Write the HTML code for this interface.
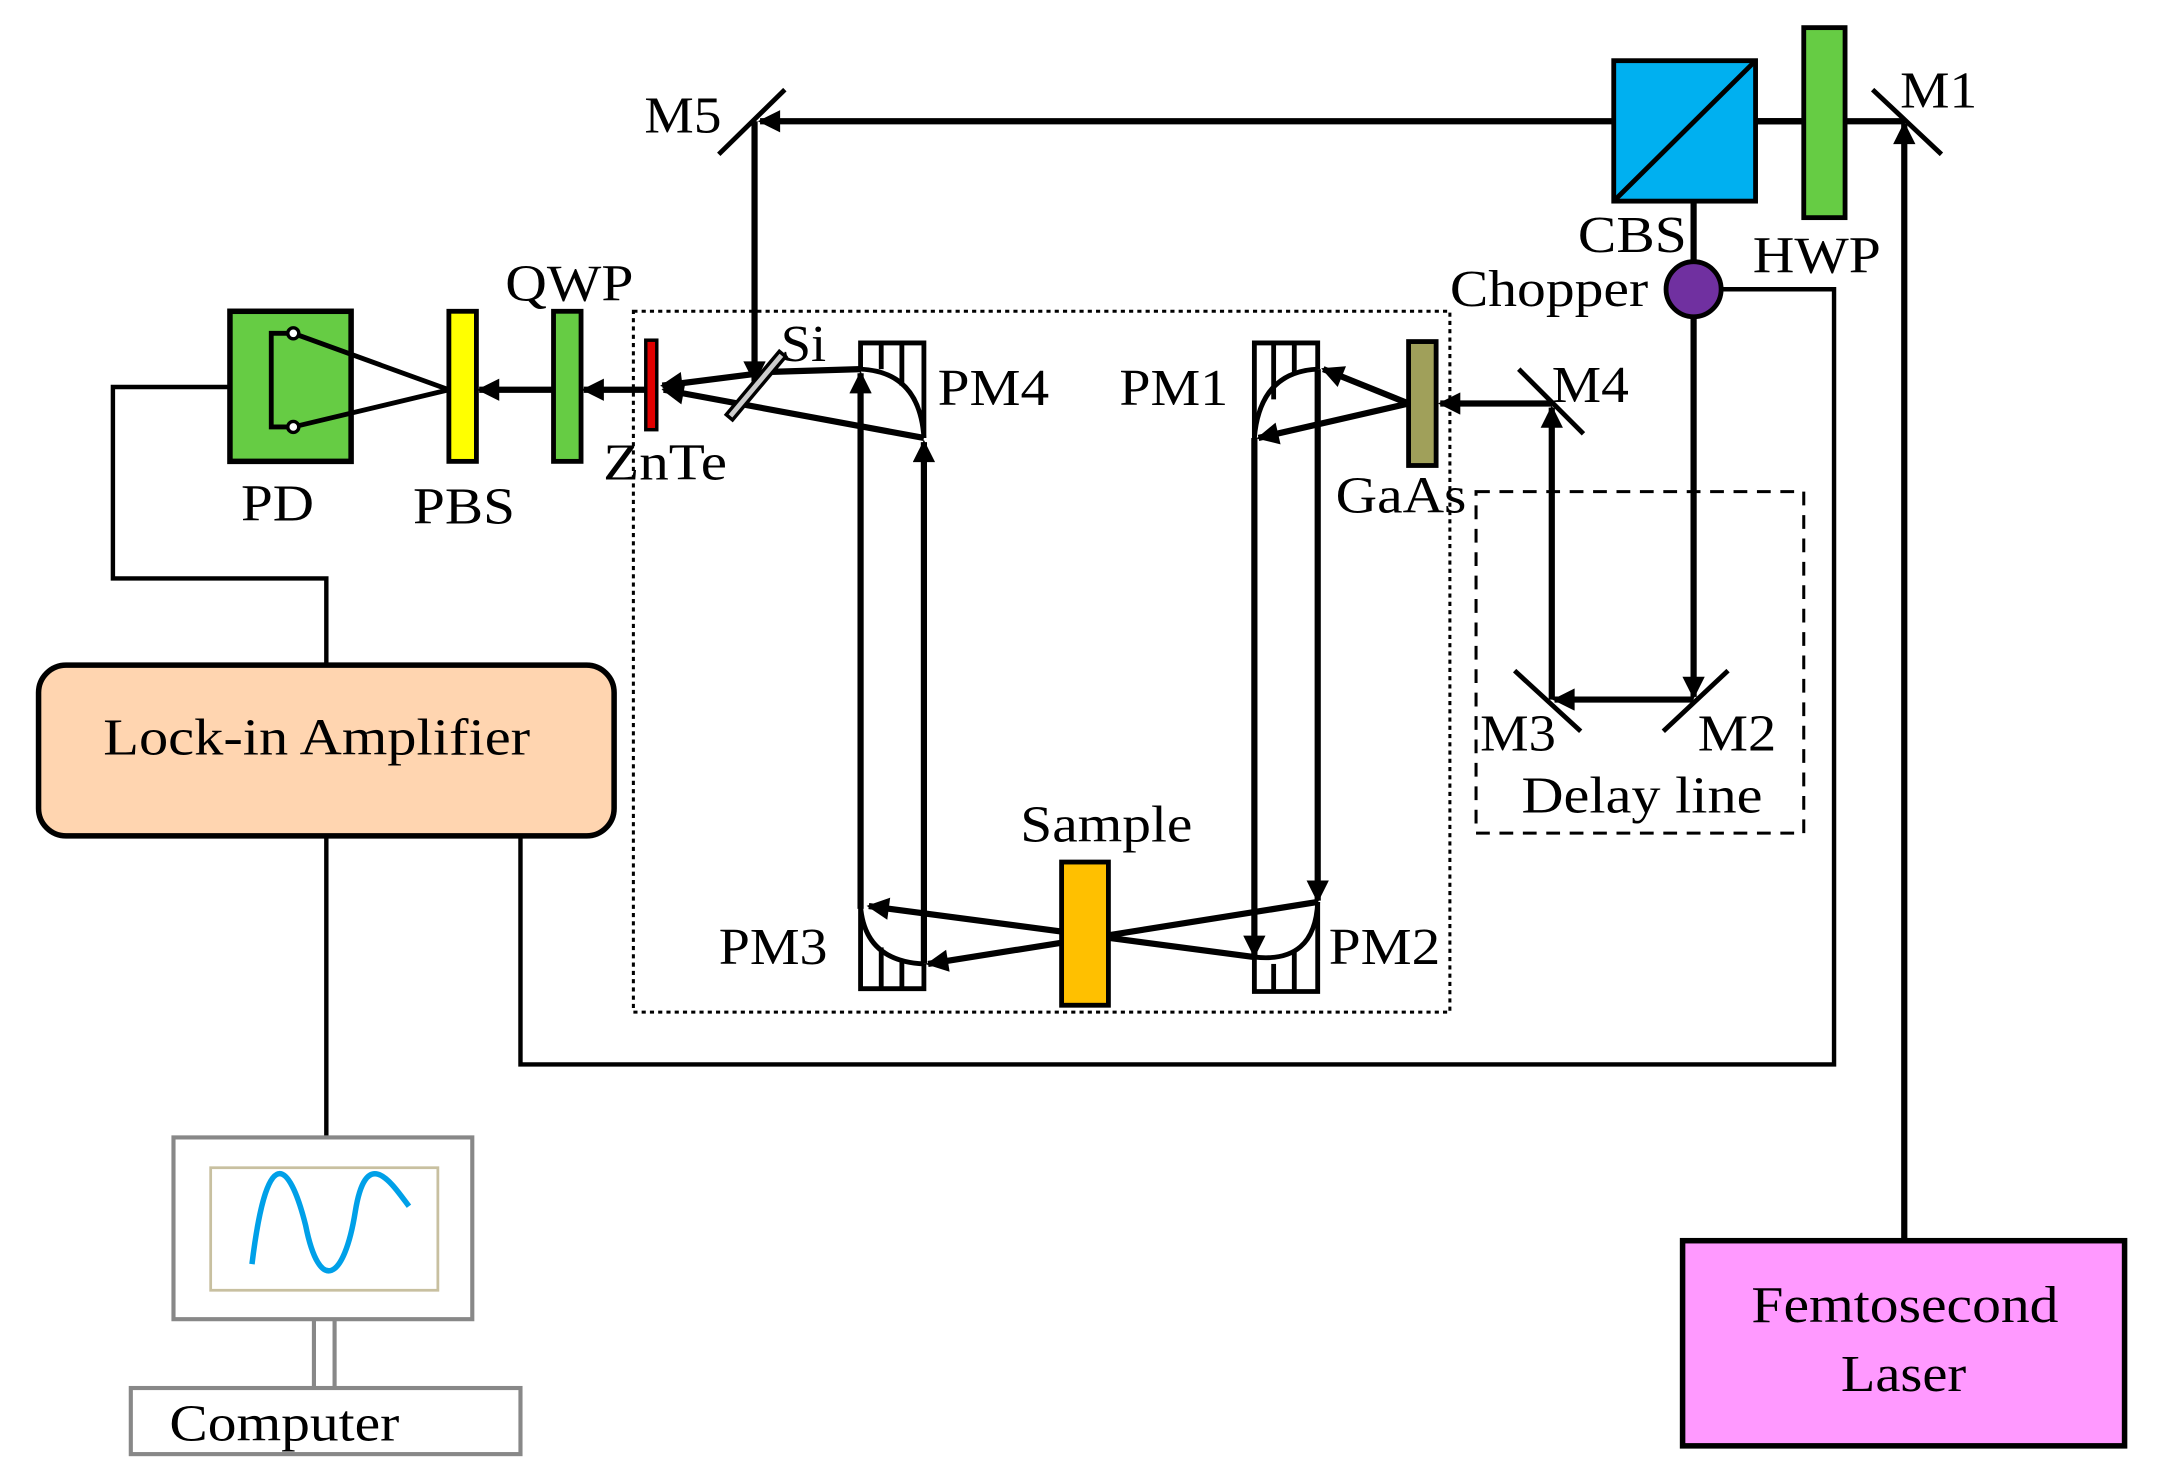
<!DOCTYPE html>
<html><head><meta charset="utf-8"><style>
html,body{margin:0;padding:0;background:#fff;}
svg{display:block;}
text{font-family:"Liberation Serif",serif;fill:#000;}
</style></head><body>
<svg width="2159" height="1479" viewBox="0 0 1568 1074" xmlns="http://www.w3.org/2000/svg">
<defs>
<marker id="a" viewBox="0 0 10 10" refX="9" refY="5" markerWidth="4.2" markerHeight="3.6" orient="auto" markerUnits="strokeWidth">
<path d="M0,0 L10,5 L0,10 z" fill="#000"/></marker>
</defs>
<rect x="460" y="226" width="593" height="509" fill="none" stroke="#000" stroke-width="2.2" stroke-dasharray="3,3"/>
<rect x="1072" y="357" width="238" height="248" fill="none" stroke="#000" stroke-width="2.2" stroke-dasharray="10,7"/>
<g stroke="#000" stroke-width="4.5" fill="none">
<line x1="1383" y1="901" x2="1383" y2="90" marker-end="url(#a)"/>
<line x1="1383" y1="88" x2="552" y2="88" marker-end="url(#a)"/>
<line x1="548" y1="88" x2="548" y2="277" marker-end="url(#a)"/>
<line x1="1230" y1="146" x2="1230" y2="506" marker-end="url(#a)"/>
<line x1="1230" y1="508" x2="1129" y2="508" marker-end="url(#a)"/>
<line x1="1127" y1="508" x2="1127" y2="296" marker-end="url(#a)"/>
<line x1="1127" y1="293" x2="1046" y2="293" marker-end="url(#a)"/>
<line x1="1023" y1="293" x2="961" y2="268" marker-end="url(#a)"/>
<line x1="1023" y1="293" x2="914" y2="318" marker-end="url(#a)"/>
<line x1="911" y1="318" x2="911" y2="694" marker-end="url(#a)"/>
<line x1="957" y1="268" x2="957" y2="654" marker-end="url(#a)"/>
<line x1="625" y1="660" x2="625" y2="271" marker-end="url(#a)"/>
<line x1="671" y1="700" x2="671" y2="321" marker-end="url(#a)"/>
<polyline points="625,268 560,270 481,280" marker-end="url(#a)"/>
<line x1="671" y1="318" x2="482" y2="283" marker-end="url(#a)"/>
<line x1="469" y1="283" x2="424" y2="283" marker-end="url(#a)"/>
<line x1="402" y1="283" x2="348" y2="283" marker-end="url(#a)"/>
<line x1="911" y1="695" x2="631" y2="658" marker-end="url(#a)"/>
<line x1="957" y1="655" x2="674" y2="700" marker-end="url(#a)"/>
<line x1="1360" y1="65" x2="1410" y2="112" stroke-width="3.5"/>
<line x1="522" y1="112" x2="570" y2="65" stroke-width="3.5"/>
<line x1="1208" y1="531" x2="1255" y2="487" stroke-width="3.5"/>
<line x1="1100" y1="487" x2="1148" y2="531" stroke-width="3.5"/>
<line x1="1103" y1="268" x2="1150" y2="315" stroke-width="3.5"/>
<polyline points="1250,210 1332,210 1332,773 378,773 378,607" stroke-width="3.2"/>
<polyline points="167,281 82,281 82,420 237,420 237,483" stroke-width="3.2"/>
<line x1="237" y1="607" x2="237" y2="826" stroke-width="3.2"/>
</g>
<g stroke="#000" stroke-width="3.5" fill="none">
<path d="M911,318 L911,249 L957,249 L957,268"/>
<line x1="925" y1="249" x2="925" y2="290"/><line x1="940" y1="249" x2="940" y2="272"/>
<path d="M957,268 Q915,270 911,318" />
<path d="M911,695 L911,720 L957,720 L957,655"/>
<line x1="925" y1="720" x2="925" y2="700"/><line x1="940" y1="720" x2="940" y2="690"/>
<path d="M911,695 Q955,700 957,655"/>
<path d="M625,660 L625,718 L671,718 L671,700"/>
<line x1="640" y1="718" x2="640" y2="688"/><line x1="655" y1="718" x2="655" y2="698"/>
<path d="M625,658 Q628,698 671,700"/>
<path d="M625,268 L625,249 L671,249 L671,318"/>
<line x1="640" y1="249" x2="640" y2="268"/><line x1="655" y1="249" x2="655" y2="280"/>
<path d="M625,268 Q668,270 671,318"/>
</g>
<rect x="1310" y="20" width="30" height="138" fill="#66CC44" stroke="#000" stroke-width="3.5"/>
<rect x="1172" y="44" width="103" height="102" fill="#00B0F0" stroke="#000" stroke-width="3.5"/>
<line x1="1172" y1="146" x2="1275" y2="44" stroke="#000" stroke-width="3.5"/>
<line x1="1275" y1="88" x2="1310" y2="88" stroke="#000" stroke-width="4.5"/>
<circle cx="1230" cy="210" r="20" fill="#7030A0" stroke="#000" stroke-width="3.5"/>
<rect x="1023" y="248" width="20" height="90" fill="#A0A05A" stroke="#000" stroke-width="3.5"/>
<rect x="771" y="626" width="34" height="104" fill="#FFC000" stroke="#000" stroke-width="3.5"/>
<rect x="469" y="247" width="8" height="65" fill="#E00000" stroke="#000" stroke-width="2.5"/>
<rect x="546" y="250" width="6" height="60" fill="#ccc" stroke="#000" stroke-width="2.5" transform="rotate(40 549 280)"/>
<rect x="402" y="226" width="20" height="109" fill="#66CC44" stroke="#000" stroke-width="3.5"/>
<rect x="326" y="226" width="20" height="109" fill="#FFFF00" stroke="#000" stroke-width="3.5"/>
<rect x="167" y="226" width="88" height="109" fill="#66CC44" stroke="#000" stroke-width="4"/>
<g stroke="#000" stroke-width="3.5" fill="none">
<polyline points="213,242 197,242 197,310 213,310"/>
<line x1="213" y1="242" x2="326" y2="283"/><line x1="213" y1="310" x2="326" y2="283"/>
</g>
<circle cx="213" cy="242" r="4" fill="#fff" stroke="#000" stroke-width="2.5"/>
<circle cx="213" cy="310" r="4" fill="#fff" stroke="#000" stroke-width="2.5"/>
<rect x="28" y="483" width="418" height="124" rx="20" fill="#FFD5B0" stroke="#000" stroke-width="4"/>
<rect x="1222" y="901" width="321" height="149" fill="#FF99FF" stroke="#000" stroke-width="4"/>
<rect x="126" y="826" width="217" height="132" fill="#fff" stroke="#888" stroke-width="3"/>
<rect x="153" y="848" width="165" height="89" fill="#fff" stroke="#C8C0A0" stroke-width="2"/>
<path d="M183,918 C195,820 212,850 222,890 C232,940 250,930 258,880 C266,830 285,860 297,876" stroke="#00A0E8" stroke-width="4" fill="none"/>
<line x1="228" y1="958" x2="228" y2="1008" stroke="#888" stroke-width="3"/>
<line x1="243" y1="958" x2="243" y2="1008" stroke="#888" stroke-width="3"/>
<rect x="95" y="1008" width="283" height="48" fill="#fff" stroke="#888" stroke-width="3"/>
<g font-size="38" lengthAdjust="spacingAndGlyphs">
<text x="1380" y="78" textLength="56" lengthAdjust="spacingAndGlyphs">M1</text>
<text x="468" y="96" textLength="56" lengthAdjust="spacingAndGlyphs">M5</text>
<text x="1146" y="183" textLength="79" lengthAdjust="spacingAndGlyphs">CBS</text>
<text x="1273" y="198" textLength="93" lengthAdjust="spacingAndGlyphs">HWP</text>
<text x="1053" y="222" textLength="144" lengthAdjust="spacingAndGlyphs">Chopper</text>
<text x="367" y="218" textLength="93" lengthAdjust="spacingAndGlyphs">QWP</text>
<text x="567" y="262" textLength="33" lengthAdjust="spacingAndGlyphs">Si</text>
<text x="681" y="294" textLength="81" lengthAdjust="spacingAndGlyphs">PM4</text>
<text x="813" y="294" textLength="79" lengthAdjust="spacingAndGlyphs">PM1</text>
<text x="1127" y="292" textLength="56" lengthAdjust="spacingAndGlyphs">M4</text>
<text x="970" y="372" textLength="95" lengthAdjust="spacingAndGlyphs">GaAs</text>
<text x="438" y="348" textLength="90" lengthAdjust="spacingAndGlyphs">ZnTe</text>
<text x="175" y="378" textLength="53" lengthAdjust="spacingAndGlyphs">PD</text>
<text x="300" y="380" textLength="74" lengthAdjust="spacingAndGlyphs">PBS</text>
<text x="1075" y="545" textLength="55" lengthAdjust="spacingAndGlyphs">M3</text>
<text x="1233" y="545" textLength="57" lengthAdjust="spacingAndGlyphs">M2</text>
<text x="1105" y="590" textLength="175" lengthAdjust="spacingAndGlyphs">Delay line</text>
<text x="741" y="611" textLength="125" lengthAdjust="spacingAndGlyphs">Sample</text>
<text x="522" y="700" textLength="79" lengthAdjust="spacingAndGlyphs">PM3</text>
<text x="965" y="700" textLength="81" lengthAdjust="spacingAndGlyphs">PM2</text>
<text x="75" y="548" textLength="310" lengthAdjust="spacingAndGlyphs">Lock-in Amplifier</text>
<text x="123" y="1046" textLength="167" lengthAdjust="spacingAndGlyphs">Computer</text>
<text x="1272" y="960" textLength="223" lengthAdjust="spacingAndGlyphs">Femtosecond</text>
<text x="1337" y="1010" textLength="91" lengthAdjust="spacingAndGlyphs">Laser</text>
</g>
</svg>
</body></html>
